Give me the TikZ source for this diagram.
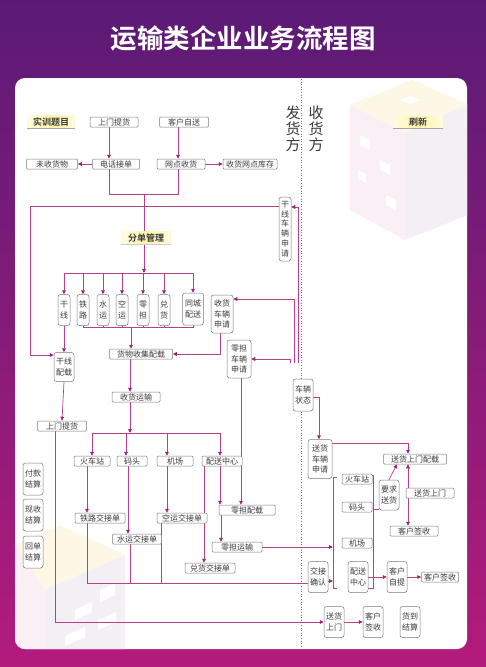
\documentclass[tikz,border=0pt]{standalone}
\usepackage{fontspec}
\setmainfont{Noto Sans CJK SC}[BoldFont={Noto Sans CJK SC Bold}]
\usetikzlibrary{arrows.meta,calc}
\definecolor{bgtop}{HTML}{5A1B76}
\definecolor{bgbot}{HTML}{B31B7C}
\definecolor{linec}{HTML}{B5408C}
\definecolor{tipc}{HTML}{9E1F74}
\definecolor{boxc}{HTML}{7A7A7A}
\definecolor{txtc}{HTML}{3A3A3A}
\definecolor{dotc}{HTML}{C0506E}
\definecolor{laby}{HTML}{FFF3A8}
\definecolor{decoy}{HTML}{FDF8E6}
\definecolor{decop}{HTML}{FAEFF5}
\definecolor{decog}{HTML}{F3EFF5}
\pgfdeclarelayer{deco}\pgfdeclarelayer{links}\pgfsetlayers{deco,links,main}
\tikzset{
 bx/.style={draw=boxc, line width=0.5pt, rounded corners=1pt, fill=white, inner sep=0pt, text=txtc, align=center, font=\fontsize{8}{10.5}\selectfont},
 hb/.style={bx, minimum height=10pt},
 vb/.style={bx, rounded corners=2.5pt},
 lab/.style={inner sep=0pt, minimum height=13pt, text=txtc, font=\bfseries\fontsize{9}{10}\selectfont, left color=laby!35, right color=laby!35, middle color=laby},
 conn/.style={draw=linec, line width=0.7pt},
 arr/.style={conn, -{Triangle[length=4pt,width=3.6pt,color=tipc]}},
 uline/.style={draw=black!35, line width=0.7pt},
}
\begin{document}
\begin{tikzpicture}[x=1pt,y=-1pt]
\useasboundingbox (0,0) rectangle (486,667);
\begin{pgfonlayer}{deco}
\shade[top color=bgtop, bottom color=bgbot] (0,0) rectangle (486,667);
\fill[white, rounded corners=10pt] (15,78) rectangle (467,649);
\begin{scope}
\clip[rounded corners=10pt] (15,78) rectangle (467,649);
% top-right cube
\fill[decoy] (350,105) -- (412,80) -- (468,104) -- (405,133) -- cycle;
\fill[decop] (350,105) -- (405,133) -- (405,240) -- (350,210) -- cycle;
\fill[decog] (405,133) -- (468,104) -- (468,215) -- (405,240) -- cycle;
\fill[white] (360,135) -- (370,140) -- (370,150) -- (360,145) -- cycle;
\fill[white] (380,160) -- (390,165) -- (390,175) -- (380,170) -- cycle;
\fill[white] (358,170) -- (366,174) -- (366,183) -- (358,179) -- cycle;
\fill[white] (386,195) -- (396,200) -- (396,210) -- (386,205) -- cycle;
\fill[white] (400,100) -- (410,96) -- (420,100) -- (410,104) -- cycle;
% bottom-left cube
\fill[decoy] (15,545) -- (60,525) -- (125,555) -- (45,590) -- cycle;
\fill[decop] (15,545) -- (45,590) -- (45,650) -- (15,650) -- cycle;
\fill[decog] (45,590) -- (125,555) -- (125,650) -- (45,650) -- cycle;
\fill[white] (75,610) -- (92,602) -- (92,612) -- (75,620) -- cycle;
\fill[white] (100,590) -- (115,583) -- (115,595) -- (100,602) -- cycle;
\fill[white] (65,636) -- (85,627) -- (85,637) -- (65,646) -- cycle;
\fill[white] (98,620) -- (116,612) -- (116,622) -- (98,630) -- cycle;
\end{scope}
\draw[dotc, line width=0.6pt, dotted] (301,79) -- (301,646);
\end{pgfonlayer}

\node[text=white, font=\bfseries\fontsize{26.5}{28}\selectfont] (title) at (243,38) {运输类企业业务流程图};
\node[text=txtc, align=center, font=\fontsize{15}{16}\selectfont] (fhf) at (293,129) {发\\货\\方};
\node[text=txtc, align=center, font=\fontsize{15}{16}\selectfont] (shf) at (316,129) {收\\货\\方};

\node[lab, minimum width=48pt] (sxtm) at (51,122) {实训题目};
\node[lab, minimum width=50pt, minimum height=12pt] (sx) at (418,122) {刷新};
\node[lab, minimum width=50pt] (fdgl) at (146,238) {分单管理};

\node[hb, minimum width=48pt] (smth) at (114,122) {上门提货};
\node[hb, minimum width=49pt] (khzs) at (184,122) {客户自送};
\node[hb, minimum width=51pt] (wshw) at (52,164) {未收货物};
\node[hb, minimum width=47pt] (dhjd) at (116,164) {电话接单};
\node[hb, minimum width=48pt] (wdsh) at (181,164) {网点收货};
\node[hb, minimum width=54pt] (shwd) at (250,164) {收货网点库存};

\node[vb, minimum width=12pt, minimum height=31pt] (gx) at (64,310) {干\\线};
\node[vb, minimum width=12pt, minimum height=31pt] (tl) at (83,310) {铁\\路};
\node[vb, minimum width=12pt, minimum height=31pt] (sy) at (103,310) {水\\运};
\node[vb, minimum width=12pt, minimum height=31pt] (ky) at (122,310) {空\\运};
\node[vb, minimum width=12pt, minimum height=31pt] (ld) at (143,310) {零\\担};
\node[vb, minimum width=12pt, minimum height=31pt] (dh) at (164,310) {兑\\货};
\node[vb, minimum width=21pt, minimum height=32pt] (tcps) at (193,309) {同城\\配送};
\node[vb, minimum width=22pt, minimum height=38pt] (shcl) at (222,314) {收货\\车辆\\申请};
\node[vb, minimum width=12pt, minimum height=64pt, font=\fontsize{8}{9.7}\selectfont] (gxcl) at (285,229) {干\\线\\车\\辆\\申\\请};
\node[vb, minimum width=24pt, minimum height=38pt] (ldcl) at (239,359) {零担\\车辆\\申请};
\node[vb, minimum width=20pt, minimum height=32pt] (clzt) at (303,395) {车辆\\状态};
\node[vb, minimum width=20pt, minimum height=29pt] (gxpz) at (64,367) {干线\\配载};
\node[hb, minimum width=49pt] (smth2) at (62,426) {上门提货};
\node[hb, minimum width=63pt] (hwsj) at (141,354) {货物收集配载};
\node[hb, minimum width=48pt] (shys) at (136,397) {收货运输};
\node[hb, minimum width=36pt] (hcz) at (92,461) {火车站};
\node[hb, minimum width=30pt] (mt) at (132,461) {码头};
\node[hb, minimum width=36pt] (jc) at (175,461) {机场};
\node[hb, minimum width=40pt] (pszx) at (222,461) {配送中心};
\node[hb, minimum width=50pt] (tljj) at (100,518) {铁路交接单};
\node[hb, minimum width=49pt] (syjj) at (137,539) {水运交接单};
\node[hb, minimum width=50pt] (kyjj) at (182,518) {空运交接单};
\node[hb, minimum width=50pt] (dhjj) at (210,568) {兑货交接单};
\node[hb, minimum width=56pt] (ldpz) at (247,510) {零担配载};
\node[hb, minimum width=50pt] (lys) at (237,547) {零担运输};
\node[vb, minimum width=20pt, minimum height=32pt] (fkjs) at (33,479) {付款\\结算};
\node[vb, minimum width=20pt, minimum height=32pt] (xsjs) at (33,515) {现收\\结算};
\node[vb, minimum width=20pt, minimum height=32pt] (hdjs) at (33,552) {回单\\结算};

\node[vb, minimum width=24pt, minimum height=39pt] (sccl) at (320,459) {送货\\车辆\\申请};
\node[hb, minimum width=63pt] (shpz) at (415,459) {送货上门配载};
\node[hb, minimum width=30pt] (hcz2) at (357,479) {火车站};
\node[hb, minimum width=30pt] (mt2) at (357,507) {码头};
\node[hb, minimum width=30pt] (jc2) at (357,543) {机场};
\node[vb, minimum width=20pt, minimum height=30pt] (yqsh) at (389,495) {要求\\送货};
\node[hb, minimum width=48pt] (shsm) at (430,493) {送货上门};
\node[hb, minimum width=48pt] (khqs1) at (414,531) {客户签收};
\node[vb, minimum width=20pt, minimum height=31pt] (jjqr) at (318,577) {交接\\确认};
\node[vb, minimum width=20pt, minimum height=31pt] (psz2) at (358,577) {配送\\中心};
\node[vb, minimum width=20pt, minimum height=31pt] (kzt) at (397,577) {客户\\自提};
\node[hb, minimum width=37pt] (khqs2) at (440,577) {客户签收};
\node[vb, minimum width=20pt, minimum height=31pt] (shsm3) at (334,622) {送货\\上门};
\node[vb, minimum width=20pt, minimum height=31pt] (khqs3) at (373,622) {客户\\签收};
\node[vb, minimum width=20pt, minimum height=31pt] (hdjs3) at (410,622) {货到\\结算};

\draw[uline] (sxtm.south west) -- (sxtm.south east);
\draw[uline] (sx.south west) -- (sx.south east);
\draw[uline, draw=black!20] (fdgl.south west) -- (fdgl.south east);

\begin{pgfonlayer}{links}
\draw[arr] (smth.south -| 109,0) -- (dhjd.north -| 109,0);
\draw[arr] (khzs.south -| 178,0) -- (wdsh.north -| 178,0);
\draw[arr] (dhjd.west) -- (wshw.east);
\draw[arr] (wdsh.east) -- (shwd.west);
\draw[conn] (dhjd.south -| 109,0) |- (178,194) -- (wdsh.south -| 178,0);
\draw[conn] (144,194) -- (fdgl.north -| 144,0);
\draw[arr] (fdgl.south -| 144,0) -- (144,273);
\draw[conn] (gx.north |- 0,273) -- (tcps.north |- 0,273);
\foreach \n in {gx,tl,sy,ky,ld,dh,tcps} \draw[arr] (\n.north |- 0,273) -- (\n.north);
\draw[arr] (gxcl.west |- 0,206) -| (30,355) -- (gxpz.west |- 0,355);
\draw[arr] (gx.south) -- (gxpz.north);
\draw[arr] (gxpz.south) -- (smth2.north);
\draw[arr] (smth2.south -| 55,0) |- (shsm3.west);
\draw[conn] (tl.south) |- (tcps.south |- 0,327) -- (tcps.south);
\foreach \n in {sy,ky,ld,dh} \draw[conn] (\n.south) -- (\n.south |- 0,327);
\draw[arr] (131,327) -- (hwsj.north -| 131,0);
\draw[arr] (shcl.south -| 220,0) |- (hwsj.east);
\draw[arr] (hwsj.south -| 130,0) -- (shys.north -| 130,0);
\draw[arr] (shys.south -| 130,0) -- (130,433);
\draw[conn] (92,433) -- (220,433);
\draw[arr] (92,433) -- (hcz.north -| 92,0);
\draw[arr] (126,433) -- (mt.north -| 126,0);
\draw[arr] (167,433) -- (jc.north -| 167,0);
\draw[arr] (220,433) -- (pszx.north -| 220,0);
\draw[arr] (hcz.south -| 87,0) -- (tljj.north -| 87,0);
\draw[arr] (mt.south -| 128,0) -- (syjj.north -| 128,0);
\draw[arr] (jc.south -| 167,0) -- (kyjj.north -| 167,0);
\draw[arr] (pszx.south -| 204,0) -- (dhjj.north -| 204,0);
\draw[arr] (pszx.south -| 220,0) -- (ldpz.north -| 220,0);
\draw[arr] (ldcl.south -| 241,0) -- (ldpz.north -| 241,0);
\draw[arr] (ldpz.south -| 221,0) -- (lys.north -| 221,0);
\coordinate (brt) at (333,477);
\coordinate (brb) at (333,588);
\draw[arr] (lys.east) -- (lys.east -| brt);
\draw[conn] (tljj.south -| 87,0) |- (jjqr.west |- 0,583);
\draw[conn] (syjj.south -| 130,0) -- (130,583);
\draw[conn] (kyjj.south -| 161,0) -- (161,583);
\draw[arr] (jjqr.east |- 0,581) -- (brt |- 0,581);
\draw[conn] ($(brt)+(4,0)$) -- (brt) -- (brb) -- ++(4,0);
\coordinate (c1) at (298,363);
\coordinate (c2) at (294,363);
\coordinate (c3) at (290,363);
\draw[arr] (c1) |- (gxcl.east |- 0,207);
\draw[arr] (c2) |- (shcl.east |- 0,299);
\draw[arr] (c3) |- (ldcl.east |- 0,359);
\draw[arr] (clzt.east |- 0,397) -| (sccl.north -| 319,0);
\draw[arr] (sccl.east |- 0,443) -| (shpz.north -| 408,0);
\draw[conn] (hcz2.east |- 0,475) -- (373,475) -- (373,588) -- (psz2.east |- 0,588);
\draw[conn] (373,509) -- (yqsh.west |- 0,509);
\draw[arr] (yqsh.north) -- (shpz.south -| 397,0);
\draw[arr] (shsm.north -| 408,0) -- (shpz.south -| 408,0);
\draw[arr] (shsm.south -| 408,0) -- (khqs1.north -| 408,0);
\draw[arr] (psz2.east) -- (kzt.west);
\draw[arr] (kzt.east) -- (khqs2.west);
\draw[arr] (shsm3.east) -- (khqs3.west);
\end{pgfonlayer}
\end{tikzpicture}
\end{document}
